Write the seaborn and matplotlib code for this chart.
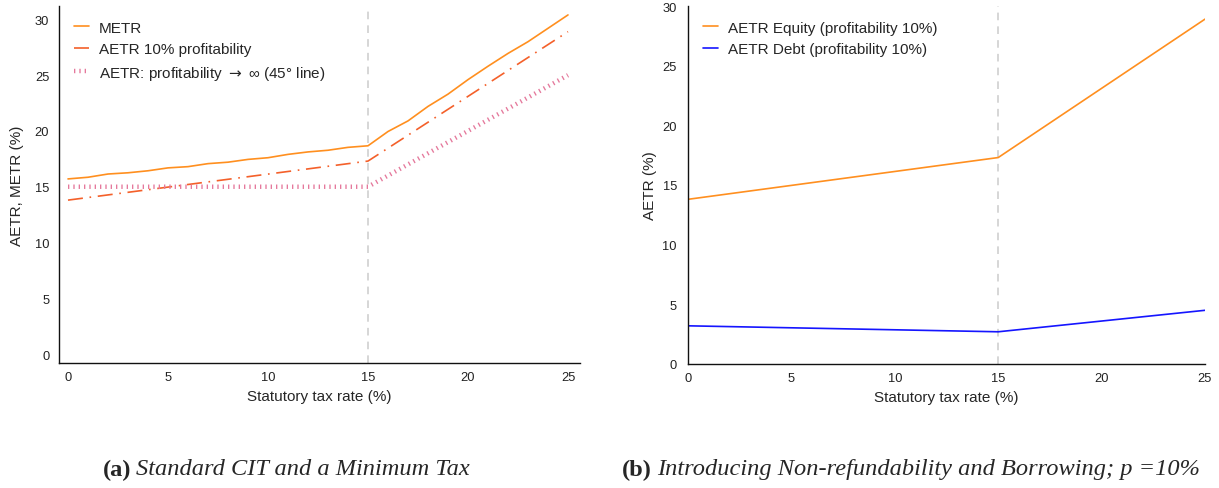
import numpy as np
import pandas as pd
import matplotlib
matplotlib.use("Agg")
import matplotlib.pyplot as plt
import seaborn as sns

# ---------------- data ----------------
tax_rate = list(range(0, 26))
metr = [15.7, 15.85, 16.14, 16.25, 16.43, 16.69, 16.8, 17.07, 17.2, 17.45,
        17.6, 17.9, 18.12, 18.27, 18.53, 18.67, 19.95, 20.9, 22.2, 23.3,
        24.6, 25.8, 26.95, 28.0, 29.2, 30.4]
aetr_x = [0, 15, 25]
aetr_10 = [13.8, 17.3, 28.9]
aetr_inf_x = [0, 15, 25]
aetr_inf = [15.0, 15.0, 25.0]

b_x = [0, 15, 25]
aetr_equity = [13.8, 17.3, 28.9]
aetr_debt = [3.2, 2.7, 4.5]

xticks = [0, 5, 10, 15, 20, 25]
yticks = [0, 5, 10, 15, 20, 25, 30]
min_tax = 15

lbl_metr = "METR"
lbl_a10 = "AETR 10% profitability"
lbl_inf = "AETR: profitability $\\rightarrow$ \u221e (45\u00b0 line)"
lbl_eq = "AETR Equity (profitability 10%)"
lbl_debt = "AETR Debt (profitability 10%)"

cap_a_tag, cap_a = "(a)", "Standard CIT and a Minimum Tax"
cap_b_tag, cap_b = "(b)", "Introducing Non-refundability and Borrowing; p =10%"

# ---------------- style ----------------
sns.set_style("white")
plt.rcParams['font.family'] = ['Liberation Sans', 'DejaVu Sans']
plt.rcParams['mathtext.fontset'] = 'dejavusans'

W, H = 1219, 489
fig = plt.figure(figsize=(W / 100, H / 100), dpi=100)

def px_axes(l, r, t, b):
    return fig.add_axes([l / W, (H - b) / H, (r - l) / W, (b - t) / H])

axL = px_axes(59, 580, 7, 364)
axR = px_axes(688, 1205, 7, 365)

c_metr = "#ff8f1f"
c_a10 = "#f4602a"
c_inf = "#e5799c"
c_eq = "#ff8f1f"
c_debt = "#1515ff"

dfL1 = pd.DataFrame({"x": tax_rate, "y": metr})
dfL2 = pd.DataFrame({"x": aetr_x, "y": aetr_10})
dfL3 = pd.DataFrame({"x": aetr_inf_x, "y": aetr_inf})

sns.lineplot(data=dfL1, x="x", y="y", ax=axL, color=c_metr, lw=1.2, label=lbl_metr)
sns.lineplot(data=dfL2, x="x", y="y", ax=axL, color=c_a10, lw=1.2,
             linestyle=(0, (9, 4, 1, 4)), label=lbl_a10)
sns.lineplot(data=dfL3, x="x", y="y", ax=axL, color=c_inf, lw=3.2,
             linestyle=(0, (0.3, 0.9)), label=lbl_inf)

dfR1 = pd.DataFrame({"x": b_x, "y": aetr_equity})
dfR2 = pd.DataFrame({"x": b_x, "y": aetr_debt})
sns.lineplot(data=dfR1, x="x", y="y", ax=axR, color=c_eq, lw=1.2, label=lbl_eq)
sns.lineplot(data=dfR2, x="x", y="y", ax=axR, color=c_debt, lw=1.2, label=lbl_debt)

for ax in (axL, axR):
    ax.axvline(min_tax, color="#cccccc", lw=1.1, linestyle=(0, (5, 4)), zorder=0)
    ax.set_xticks(xticks)
    ax.set_yticks(yticks)
    ax.tick_params(axis="both", length=0, labelsize=9.3, colors="#222222")
    ax.tick_params(axis="y", pad=7)
    ax.tick_params(axis="x", pad=6)
    for s in ("top", "right"):
        ax.spines[s].set_visible(False)
    for s in ("left", "bottom"):
        ax.spines[s].set_color("#111111")
        ax.spines[s].set_linewidth(1.0)
    ax.set_xlabel("Statutory tax rate (%)", fontsize=11, labelpad=4)
    ax.legend(loc="upper left", frameon=False, fontsize=11,
              handlelength=1.0, handletextpad=0.65, labelspacing=0.5,
              borderaxespad=0.55, bbox_to_anchor=(0.0, 1.0))

axL.set_xlim(-0.45, 25.6)
axL.set_ylim(-0.8, 31.2)
axR.set_xlim(0, 25)
axR.set_ylim(0, 30.0)
axR.tick_params(axis="y", pad=8)

axL.set_ylabel("AETR, METR (%)", fontsize=11, labelpad=8)
axR.set_ylabel("AETR (%)", fontsize=11, labelpad=4)

# captions
cap_y = (H - 470) / H
serif = ["Liberation Serif", "DejaVu Serif"]
fig.canvas.draw()
renderer = fig.canvas.get_renderer()
for x0, tag, txt in ((103, cap_a_tag, cap_a), (622, cap_b_tag, cap_b)):
    t = fig.text(x0 / W, cap_y, tag, fontsize=17.6, fontweight="bold",
                 family=serif, va="center", ha="left")
    bb = t.get_window_extent(renderer=renderer)
    fig.text((bb.x1 + 5) / W, cap_y, txt, fontsize=17.6, style="italic",
             family=serif, va="center", ha="left")

fig.savefig("out.png", dpi=100)
